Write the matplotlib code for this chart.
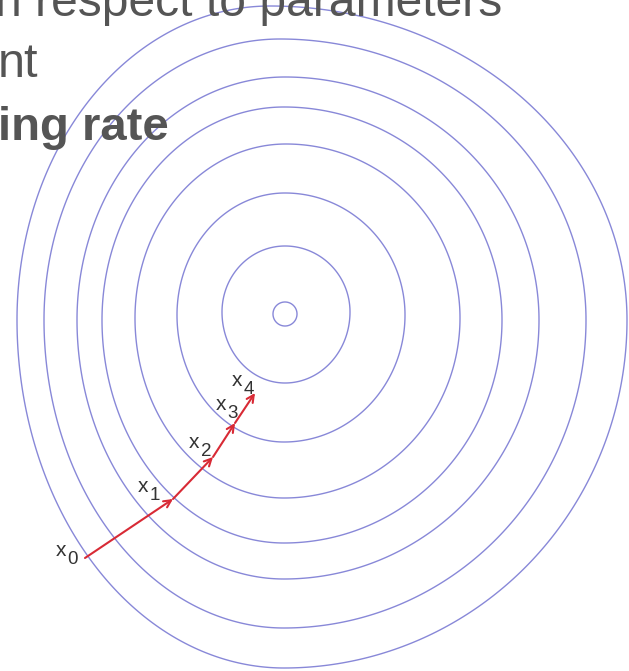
import numpy as np
import matplotlib
matplotlib.use("Agg")
import matplotlib.pyplot as plt
from matplotlib.patches import Polygon

# ---- data (image coordinates, y downward) ----
# contour rings: extreme points (left, right, top, bottom)
ring_left_x   = [273, 222, 177, 135, 102, 77, 44, 17]
ring_left_y   = [314, 312, 315, 318, 320, 320, 320, 320]
ring_right_x  = [297, 350, 405, 460, 502, 539, 586, 627]
ring_right_y  = [314, 312, 315, 318, 320, 320, 320, 320]
ring_top_x    = [285, 285, 285, 286, 284, 285, 280, 270]
ring_top_y    = [302, 246, 193, 144, 107, 77, 39, 6]
ring_bottom_x = [285, 285, 284, 284, 284, 284, 284, 284]
ring_bottom_y = [326, 383, 442, 498, 543, 579, 628, 668]

# gradient descent iterates
path_x = [85, 173, 213, 235, 255]
path_y = [558, 499, 457, 423, 393]
path_labels = ["0", "1", "2", "3", "4"]

# slide text fragments
slide_lines = ["n respect to parameters", "nt", "ing rate"]

# ---- styling / layout ----
label_dx = [-24, -30, -19, -14, -18]
label_dy = [-7, -12, -15, -18, -13]
line_x = [-5, -2, -2]
line_base = [16, 77, 140]
line_weight = ["normal", "normal", "bold"]
line_size = [34.6, 35, 34]
slide_family = ["Liberation Sans", "DejaVu Sans"]

fig = plt.figure(figsize=(6.29, 6.71), dpi=100)
ax = fig.add_axes([0, 0, 1, 1])
ax.set_xlim(0, 629)
ax.set_ylim(671, 0)
ax.axis("off")

contour_color = "#8888d8"
for i in range(len(ring_left_x)):
    xL, yL = ring_left_x[i], ring_left_y[i]
    xR, yR = ring_right_x[i], ring_right_y[i]
    xT, yT = ring_top_x[i], ring_top_y[i]
    xB, yB = ring_bottom_x[i], ring_bottom_y[i]
    t1 = np.linspace(0, np.pi / 2, 120, endpoint=False)
    t2 = np.linspace(np.pi / 2, np.pi, 120, endpoint=False)
    t3 = np.linspace(np.pi, 1.5 * np.pi, 120, endpoint=False)
    t4 = np.linspace(1.5 * np.pi, 2 * np.pi, 120, endpoint=False)
    xs = np.concatenate([
        xT + (xR - xT) * np.cos(t1),
        xT + (xT - xL) * np.cos(t2),
        xB + (xB - xL) * np.cos(t3),
        xB + (xR - xB) * np.cos(t4),
    ])
    ys = np.concatenate([
        yR + (yT - yR) * np.sin(t1),
        yL + (yT - yL) * np.sin(t2),
        yL + (yL - yB) * np.sin(t3),
        yR + (yR - yB) * np.sin(t4),
    ])
    ax.add_patch(Polygon(np.column_stack([xs, ys]), closed=True, fill=False,
                         edgecolor=contour_color, lw=1.0, joinstyle="round",
                         zorder=1))

arrow_color = "#d82a35"
for i in range(len(path_x) - 1):
    ax.annotate("", xy=(path_x[i + 1], path_y[i + 1]), xytext=(path_x[i], path_y[i]),
                arrowprops=dict(arrowstyle="->", color=arrow_color, lw=1.5,
                                mutation_scale=13, shrinkA=0, shrinkB=0),
                zorder=3)

lab_font = ["Liberation Sans", "DejaVu Sans"]
for i in range(len(path_x)):
    cx = path_x[i] + label_dx[i]
    cy = path_y[i] + label_dy[i]
    ax.text(cx, cy, "x", family=lab_font, fontsize=15, color="#333333",
            ha="center", va="center", zorder=4)
    ax.text(cx + 12, cy + 9, path_labels[i], family=lab_font, fontsize=13.5,
            color="#333333", ha="center", va="center", zorder=4)

for s, x, yb, w, fs in zip(slide_lines, line_x, line_base, line_weight, line_size):
    ax.text(x, yb, s, family=slide_family, fontsize=fs, fontweight=w,
            color="#555555", ha="left", va="baseline", zorder=5)

fig.savefig("out.png", dpi=100)
